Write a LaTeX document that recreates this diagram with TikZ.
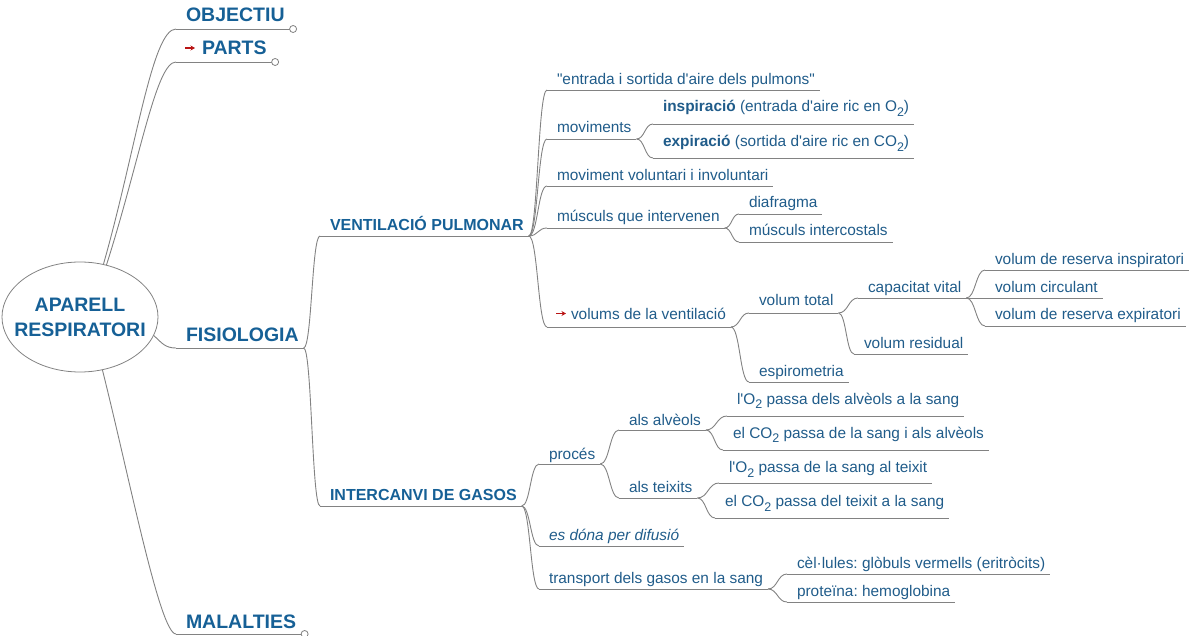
\documentclass[tikz,border=0pt]{standalone}
\usepackage{fontspec}
\setmainfont{Liberation Sans}
\usetikzlibrary{shapes.geometric,calc,arrows.meta}
\definecolor{tblue}{RGB}{32,92,138}
\definecolor{hblue}{RGB}{22,96,150}
\definecolor{lgray}{RGB}{130,130,130}
\definecolor{ared}{RGB}{185,20,20}
\newcommand\sbs[1]{\raisebox{-5pt}{\fontsize{12.5}{12.5}\selectfont #1}}
\newcommand\ap{\textquotesingle}
\newcommand\qd{\textquotedbl}
\newcommand\topic[6][txt]{%
  \node[#1,anchor=base west] (#2) at (#3,#4) {#6};
  \coordinate (#2-l) at (#3-10,#5);
  \coordinate (#2-r) at ($(#2.east|-#2-l)+(5,0)$);
  \draw[uline] (#2-l) -- (#2-r);
}
\newcommand\lnk[2]{%
  \draw[link] (#1-r) .. controls ($(#1-r)!0.5!(#2-l|-#1-r)$) and ($(#1-r|-#2-l)!0.5!(#2-l)$) .. (#2-l);
}
\frenchspacing
\begin{document}
\begin{tikzpicture}[x=1pt,y=-1pt,
  every node/.style={inner sep=0pt,outer sep=0pt},
  txt/.style={text=tblue,font=\fontsize{15.4}{15.4}\selectfont\frenchspacing},
  itxt/.style={text=tblue,font=\fontsize{15.4}{15.4}\selectfont\itshape},
  htwo/.style={text=hblue,font=\fontsize{16}{16}\selectfont\bfseries},
  hone/.style={text=hblue,font=\fontsize{19.5}{19.5}\selectfont\bfseries},
  link/.style={draw=lgray,line width=0.9pt},
  uline/.style={draw=lgray,line width=0.9pt},
  endcirc/.style={circle,draw=lgray,fill=white,line width=0.8pt,minimum size=7pt},
  redarr/.style={draw=ared,line width=1.4pt,-{Stealth[length=4.5pt,width=5pt]}}]
\useasboundingbox (0,0) rectangle (1192,636);

% root
\node[ellipse,draw=lgray,line width=0.8pt,minimum width=156pt,minimum height=110pt] (root) at (80,317) {};
\node[align=center,text=hblue,font=\fontsize{19.5}{25}\selectfont\bfseries] (roottext) at (root.center) {APARELL\\RESPIRATORI};

% level 1
\topic[hone]{objectiu}{186}{22}{29}{OBJECTIU}
\topic[hone]{parts}{186}{55}{62}{\hspace*{16pt}PARTS}
\topic[hone]{fisiologia}{186}{342}{348}{FISIOLOGIA}
\topic[hone]{malalties}{186}{628}{634}{MALALTIES}
\draw[redarr] (185,48) -- (195,48);
\node[endcirc] (c1) at ($(objectiu-r)+(3.5,0)$) {};
\node[endcirc] (c2) at ($(parts-r)+(3.5,0)$) {};
\node[endcirc] (c3) at ($(malalties-r)+(3.5,0)$) {};

\draw[link] (root.66) .. controls (136,150) and (152,29) .. (objectiu-l);
\draw[link] (root.63) .. controls (140,160) and (156,62) .. (parts-l);
\draw[link] (root.-14) .. controls (162,343) and (165,348) .. (fisiologia-l);
\draw[link] (root.-67) .. controls (130,480) and (160,634) .. (malalties-l);

% level 2
\topic[htwo]{ventilacio}{330}{231}{236}{VENTILACIÓ PULMONAR}
\topic[htwo]{intercanvi}{330}{500}{506}{INTERCANVI DE GASOS}
\lnk{fisiologia}{ventilacio}
\lnk{fisiologia}{intercanvi}

% ventilacio
\topic{entrada}{557}{84.5}{90}{\qd entrada i sortida d\ap aire dels pulmons\qd}
\topic{moviments}{557}{133}{139}{moviments}
\topic{inspiracio}{663}{112}{124}{{\bfseries inspiració} (entrada d\ap aire ric en O\sbs{2})}
\topic{expiracio}{663}{147}{158}{{\bfseries expiració} (sortida d\ap aire ric en CO\sbs{2})}
\topic{voluntari}{557}{181}{186}{moviment voluntari i involuntari}
\topic{musculs}{557}{221.5}{228}{músculs que intervenen}
\topic{diafragma}{749}{208}{214}{diafragma}
\topic{intercostals}{749}{236}{242}{músculs intercostals}
\topic{volums}{557}{320}{327}{\hspace*{14pt}volums de la ventilació}
\draw[redarr] (556,313.5) -- (566,313.5);
\topic{voltotal}{759}{306}{313}{volum total}
\topic{capvital}{868}{293}{298}{capacitat vital}
\topic{vri}{995}{265}{270}{volum de reserva inspiratori}
\topic{vcirc}{995}{293}{298}{volum circulant}
\topic{vre}{995}{320}{326}{volum de reserva expiratori}
\topic{vresid}{864}{349}{354}{volum residual}
\topic{espiro}{759}{377}{382}{espirometria}

\lnk{ventilacio}{entrada}
\lnk{ventilacio}{moviments}
\lnk{ventilacio}{voluntari}
\lnk{ventilacio}{musculs}
\lnk{ventilacio}{volums}
\lnk{moviments}{inspiracio}
\lnk{moviments}{expiracio}
\lnk{musculs}{diafragma}
\lnk{musculs}{intercostals}
\lnk{volums}{voltotal}
\lnk{volums}{espiro}
\lnk{voltotal}{capvital}
\lnk{voltotal}{vresid}
\lnk{capvital}{vri}
\lnk{capvital}{vcirc}
\lnk{capvital}{vre}

% intercanvi
\topic{proces}{549}{459}{464}{procés}
\topic{alveols}{629}{425}{430}{als alvèols}
\topic{oa}{737}{404}{416}{l\ap O\sbs{2} passa dels alvèols a la sang}
\topic{coa}{733}{438}{450}{el CO\sbs{2} passa de la sang i als alvèols}
\topic{teixits}{629}{492}{498}{als teixits}
\topic{ot}{729}{472}{483}{l\ap O\sbs{2} passa de la sang al teixit}
\topic{cot}{725}{506}{518}{el CO\sbs{2} passa del teixit a la sang}
\topic[itxt]{difusio}{549}{540}{546}{es dóna per difusió}
\topic{transport}{549}{583}{589}{transport dels gasos en la sang}
\topic{cellules}{797}{568}{574}{cèl·lules: glòbuls vermells (eritròcits)}
\topic{proteina}{797}{596}{602}{proteïna: hemoglobina}

\lnk{intercanvi}{proces}
\lnk{intercanvi}{difusio}
\lnk{intercanvi}{transport}
\lnk{proces}{alveols}
\lnk{proces}{teixits}
\lnk{alveols}{oa}
\lnk{alveols}{coa}
\lnk{teixits}{ot}
\lnk{teixits}{cot}
\lnk{transport}{cellules}
\lnk{transport}{proteina}
\end{tikzpicture}
\end{document}
